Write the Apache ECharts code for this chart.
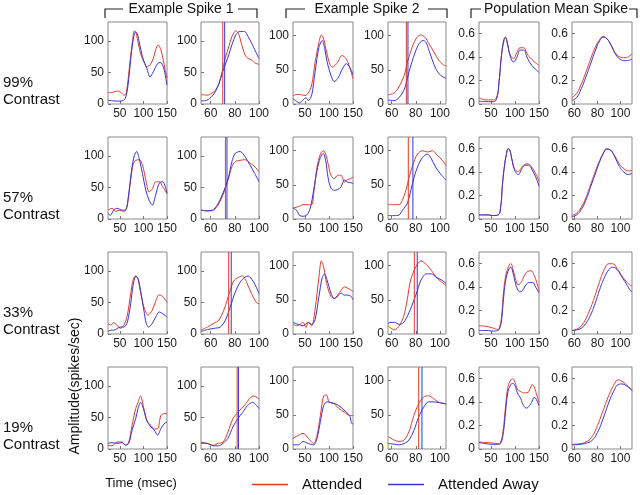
<!DOCTYPE html>
<html><head><meta charset="utf-8">
<script src="https://cdn.jsdelivr.net/npm/echarts@6/dist/echarts.min.js"></script>
<style>html,body{margin:0;padding:0;background:#fff}#c{width:640px;height:495px}</style>
</head><body><div id="c"></div>
<script>
// ---------- labels / ticks ----------
const rowLabels = ['99%', '57%', '33%', '19%'];
const colHeaders = ['Example Spike 1', 'Example Spike 2', 'Population Mean Spike'];
const fullXTicks = [50, 100, 150];
const zoomXTicks = [60, 80, 100];
const spikeYTicks = [0, 50, 100];
const popYTicks = [0, 0.2, 0.4, 0.6];
const seriesNames = ['Attended', 'Attended Away'];

// ---------- latency markers (msec) ----------
const ex1LatAtt = [70, 72.2, 74.9, 81.9];
const ex1LatAway = [71.6, 73.5, 77, 83];
const ex2LatAtt = [72.2, 73.8, 78.8, 82.4];
const ex2LatAway = [73.5, 77.6, 81.2, 85.1];

// ---------- row 1 (99%) ----------
const r1c1Att = [[25,18],[32,18],[40,20],[47,20.5],[53,18],[59,14],[63,16],[67,35],[72,70],[77,100],[81,116],[84,114],[87,104],[94,80],[98,72],[103,64],[107,59],[114,62],[121,72],[126,86],[131,94],[137,86],[142,70],[146,55],[150,41]];
const r1c1Away = [[25,6],[35,5],[45,4.5],[55,5],[61,8],[66,22],[71,55],[76,90],[80,108],[83,114],[87,112],[92,95],[98,75],[103,64],[107,57],[114,43],[121,51],[130,64],[136,66],[143,57],[150,30]];
const r1c2Att = [[52,15],[57,14],[61,17],[64,22],[67,33],[69.5,51],[72,72],[75,91],[77.6,107],[80.8,116],[83,112],[85.7,94],[88.4,78],[91,72],[93.8,70],[96.5,65],[100,63]];
const r1c2Away = [[52,5],[57,6],[61,12],[64,20],[67,33],[69.5,49],[72,62],[75,78],[77.6,94],[81,110],[84,115],[88,115],[91,107],[94,96],[96.5,86],[100,72]];
const r1c3Att = [[25,12],[33,14],[39,14],[45,13],[50,12.5],[57,16],[64,28],[71,61],[79,90],[84,101],[89,95],[95,76],[102,58],[107,54],[118,61],[127,71],[136,66],[143,54],[150,37]];
const r1c3Away = [[25,8],[32,4],[39,1.5],[46,6],[52,9],[57,5],[64,13],[71,47],[79,83],[86,93],[91,81],[96,62],[104,42],[111,33],[118,37],[127,50],[136,59],[143,54],[150,43]];
const r1c4Att = [[57,13.5],[62,16],[66,25],[70.4,42],[73,61],[76,78],[80,95],[84,101],[87.4,98],[91,88],[95,76],[99,64],[103,57],[105,56]];
const r1c4Away = [[57,6],[62,5],[66,9],[70.4,21],[73,37.5],[76,57],[80,78],[83,89],[86,93],[88.5,90],[91,78],[96.4,52],[100.5,42],[105,37.5]];
const r1c5Att = [[25,0.055],[40,0.035],[55,0.035],[62,0.06],[67,0.2],[72,0.42],[77,0.54],[80,0.57],[84,0.52],[90,0.42],[97,0.39],[104,0.44],[111,0.48],[118,0.48],[125,0.43],[135,0.38],[150,0.33]];
const r1c5Away = [[25,0.025],[40,0.02],[55,0.02],[62,0.05],[67,0.2],[72,0.42],[77,0.55],[80,0.57],[84,0.52],[90,0.41],[97,0.36],[104,0.40],[111,0.46],[118,0.46],[125,0.40],[135,0.33],[150,0.27]];
const r1c6Att = [[58,0.055],[62,0.09],[66,0.17],[70,0.27],[74,0.38],[78,0.48],[82,0.55],[85,0.575],[88,0.56],[92,0.50],[96,0.43],[100,0.40],[104,0.395],[108,0.41],[110,0.43]];
const r1c6Away = [[58,0.03],[62,0.055],[66,0.13],[70,0.23],[74,0.34],[78,0.45],[82,0.54],[85,0.57],[88,0.56],[92,0.50],[96,0.42],[100,0.38],[104,0.37],[108,0.375],[110,0.385]];

// ---------- row 2 (57%) ----------
const r2c1Att = [[25,14],[33.6,17],[40.7,12],[48,14],[58.6,12],[66,22],[73,62],[78.6,88],[83.6,93],[91,94],[98,86],[105,62],[112,43],[119,48],[126,59],[133.6,59],[141,51],[150,40]];
const r2c1Away = [[25,9],[30,6],[37,14],[44,17],[55,14],[62,14],[69,41],[76,83],[81,101],[85.7,107],[91,96],[98,72],[105,46],[112,30],[119,22],[126,38],[133.6,57],[141,59],[150,41]];
const r2c2Att = [[52,14],[57,13],[61.4,13],[65.4,20],[69.5,35],[72.2,49],[74.9,65],[77.6,83],[80.3,91],[84.3,93],[88.4,94],[92.4,89],[96.5,83],[100,75]];
const r2c2Away = [[52,14],[57,13],[61.4,14],[65.4,22],[69.5,38],[72.2,51],[74.9,67],[77.6,91],[80.3,104],[84.3,107],[88.4,99],[92.4,86],[96.5,72],[100,59]];
const r2c3Att = [[25,16],[36,18],[46,21],[57,21],[64,21],[69,42],[75,76],[82,95],[88,100],[93,95],[98,81],[104,64],[111,59],[118,64],[125,64],[132,54],[139,58],[146,59],[150,62]];
const r2c3Away = [[25,16],[32,13],[39,5],[46,4],[54,6],[61,16],[68,42],[75,71],[82,90],[88,96],[93,86],[98,61],[104,45],[111,42],[118,43],[125,47],[132,57],[139,54],[146,53],[150,52]];
const r2c4Att = [[57,21],[62,21],[66.3,21],[69,28],[71.8,42],[74.5,61],[77.3,78],[81.4,95],[85.5,100],[89.6,98],[93.7,100],[97.8,93],[102,86],[105,78]];
const r2c4Away = [[57,5],[62,5],[66.3,6],[69,13],[73,23],[75.9,42],[78.6,61],[81.4,76],[85.5,90],[89.6,95],[92.3,90],[96.4,76],[100.5,66],[105,57]];
const r2c5Att = [[25,0.035],[40,0.035],[55,0.03],[65,0.035],[70,0.1],[74,0.3],[78,0.45],[82,0.55],[86,0.6],[89,0.59],[93,0.52],[98,0.44],[103,0.41],[107,0.405],[112,0.43],[118,0.46],[125,0.47],[130,0.465],[137,0.43],[145,0.37],[150,0.32]];
const r2c5Away = [[25,0.035],[40,0.035],[55,0.03],[65,0.035],[70,0.1],[74,0.3],[78,0.45],[82,0.55],[86,0.6],[89,0.59],[93,0.52],[98,0.43],[103,0.39],[107,0.38],[112,0.41],[118,0.45],[125,0.46],[130,0.455],[137,0.41],[145,0.34],[150,0.28]];
const r2c6Att = [[58,0.03],[62,0.05],[66,0.1],[70,0.18],[74,0.29],[78,0.4],[82,0.5],[86,0.58],[88,0.6],[91,0.59],[95,0.54],[99,0.47],[103,0.43],[107,0.41],[110,0.415]];
const r2c6Away = [[58,0.02],[62,0.035],[66,0.08],[70,0.16],[74,0.27],[78,0.38],[82,0.49],[86,0.575],[88,0.595],[91,0.59],[95,0.53],[99,0.45],[103,0.4],[107,0.38],[110,0.39]];

// ---------- row 3 (33%) ----------
const r3c1Att = [[25,17],[31,14],[37,18],[44,14],[51,9],[58.6,14],[66,30],[73,64],[78.6,87],[83.6,92],[88.6,87],[94,66],[101,43],[110,30],[119,38],[126,52],[133,62],[140,60],[150,50]];
const r3c1Away = [[25,4],[31,6],[37,6],[51,11],[58.6,11],[66,19],[73,48],[78.6,79],[84.3,92],[89,87],[94,69],[101,37.5],[106,17],[111,11],[119,17],[126,27],[133.6,35],[141,32],[150,27]];
const r3c2Att = [[52,6],[57.3,11],[62.7,17],[66.8,22],[70.8,37.5],[73.5,53],[76.2,69],[79,84],[83,90],[86.5,92],[89.7,82],[93.8,64],[97.8,50],[100,48]];
const r3c2Away = [[52,4],[57.3,7],[62.7,9],[68,11],[72.2,22],[76.2,43],[80.3,66],[84.3,82],[88.4,90],[91,92],[95,84],[97.8,74],[100,64]];
const r3c3Att = [[25,14],[32,12],[39,14],[46,17],[52,9.5],[57,17],[64,12],[71,36],[79,83],[84,107],[89,98],[95,74],[104,55],[111,52],[118,57],[125,64],[132,69],[139,67],[146,64],[150,62]];
const r3c3Away = [[25,17],[36,14],[46,12],[57,17],[64,14],[71,21],[79,55],[86,83],[91,88],[96,79],[104,60],[111,52],[118,55],[125,60],[132,57],[139,57],[146,55],[150,50]];
const r3c4Att = [[57,12],[58.6,9.5],[62.3,6],[66.3,12],[70,26],[72.9,50],[75.7,79],[80,98],[84.3,107],[88.6,102],[92.9,93],[97,83],[101.4,76],[105,71]];
const r3c4Away = [[57,15],[58.6,17],[62.3,17],[66.3,14],[70,17],[74.3,31],[78.6,50],[81.4,64],[84.3,79],[88.6,88],[92.9,88],[97,83],[101.4,79],[105,74]];
const r3c5Att = [[25,0.07],[40,0.065],[55,0.05],[64,0.04],[68,0.06],[72,0.15],[76,0.35],[80,0.48],[85,0.56],[91,0.6],[96,0.55],[101,0.47],[107,0.42],[114,0.45],[120,0.5],[127,0.535],[133,0.54],[140,0.5],[146,0.43],[150,0.37]];
const r3c5Away = [[25,0.03],[40,0.03],[55,0.025],[64,0.03],[68,0.05],[72,0.12],[76,0.3],[80,0.44],[85,0.53],[91,0.57],[96,0.52],[101,0.43],[107,0.37],[111,0.36],[117,0.38],[123,0.42],[130,0.44],[136,0.44],[143,0.4],[150,0.35]];
const r3c6Att = [[58,0.03],[62,0.04],[66,0.07],[70,0.13],[74,0.22],[78,0.33],[82,0.45],[86,0.55],[90,0.6],[93,0.6],[97,0.56],[101,0.5],[105,0.45],[108,0.42],[110,0.41]];
const r3c6Away = [[58,0.03],[62,0.035],[66,0.05],[70,0.09],[74,0.16],[78,0.26],[82,0.38],[86,0.48],[90,0.55],[93,0.57],[97,0.55],[101,0.49],[105,0.43],[108,0.38],[110,0.36]];

// ---------- row 4 (19%) ----------
const r4c1Att = [[25,6],[33.6,5],[44,11],[55,11],[62,6],[69,11],[76,37.5],[83.6,64],[88.6,74],[94,84],[101,64],[108.6,43],[116,37.5],[123,32],[130,32],[137,53],[144,56],[150,56]];
const r4c1Away = [[25,9],[33.6,10],[44,9],[55,10],[62,6],[69,9],[76,30],[83.6,48],[88.6,64],[94,74],[100,64],[107,45],[116,35],[123,30],[130,22],[137,32],[144,40],[150,43]];
const r4c2Att = [[52,11],[56.8,9],[62.2,6],[66.2,9],[70.3,11],[74.3,27],[78.4,48],[82.4,58],[87.8,69],[93.2,82],[95.9,84],[100,79]];
const r4c2Away = [[52,9],[56.8,9],[62.2,5],[66.2,5],[70.3,9],[74.3,17],[78.4,35],[82.4,48],[86.5,58],[90.5,69],[94.6,74],[100,64]];
const r4c3Att = [[25,15.5],[36,20],[46,23],[57,15.5],[68,8],[75,20],[82,49],[89,78],[95,79],[100,69],[111,66],[121,59],[132,54],[143,49],[150,49]];
const r4c3Away = [[25,6],[36,6],[46,11],[57,8],[68,6],[75,15.5],[82,40],[89,64],[96,69],[104,68],[114,66],[125,61],[136,54],[143,49],[148,37],[150,37]];
const r4c4Att = [[57.3,18],[62.2,13],[66.2,11],[70.3,13],[74.3,25],[78.4,49],[82.4,66],[86.5,76],[90.5,78],[94.6,74],[98.6,69],[105,66]];
const r4c4Away = [[57.3,8],[62.2,7],[66.2,6],[70.3,8],[74.3,13],[78.4,27],[82.4,47],[86.5,61],[90.5,69],[94.6,69],[98.6,68],[105,66]];
const r4c5Att = [[25,0.06],[40,0.055],[55,0.05],[65,0.045],[70,0.06],[75,0.15],[80,0.35],[85,0.52],[90,0.58],[95,0.6],[100,0.57],[105,0.51],[112,0.49],[118,0.48],[125,0.48],[132,0.52],[136,0.55],[140,0.53],[146,0.45],[150,0.4]];
const r4c5Away = [[25,0.055],[40,0.045],[55,0.04],[65,0.04],[70,0.05],[75,0.12],[80,0.3],[85,0.48],[90,0.54],[95,0.56],[100,0.54],[105,0.48],[112,0.43],[118,0.37],[124,0.35],[130,0.37],[136,0.41],[140,0.44],[146,0.41],[150,0.37]];
const r4c6Att = [[58,0.04],[65,0.045],[70,0.06],[75,0.1],[80,0.2],[85,0.33],[90,0.46],[95,0.56],[98,0.59],[101,0.58],[105,0.55],[110,0.5]];
const r4c6Away = [[58,0.035],[65,0.04],[70,0.05],[75,0.07],[80,0.14],[85,0.26],[90,0.4],[95,0.51],[98,0.55],[101,0.555],[105,0.54],[110,0.5]];

const panels = [
  [[r1c1Att,r1c1Away],[r1c2Att,r1c2Away],[r1c3Att,r1c3Away],[r1c4Att,r1c4Away],[r1c5Att,r1c5Away],[r1c6Att,r1c6Away]],
  [[r2c1Att,r2c1Away],[r2c2Att,r2c2Away],[r2c3Att,r2c3Away],[r2c4Att,r2c4Away],[r2c5Att,r2c5Away],[r2c6Att,r2c6Away]],
  [[r3c1Att,r3c1Away],[r3c2Att,r3c2Away],[r3c3Att,r3c3Away],[r3c4Att,r3c4Away],[r3c5Att,r3c5Away],[r3c6Att,r3c6Away]],
  [[r4c1Att,r4c1Away],[r4c2Att,r4c2Away],[r4c3Att,r4c3Away],[r4c4Att,r4c4Away],[r4c5Att,r4c5Away],[r4c6Att,r4c6Away]]
];

// ---------- layout (styles, not data) ----------
const RED = '#e5392c', BLUE = '#3434d8';
const FONT = 'Liberation Sans, Arial, sans-serif';
const colLeft = [108, 201, 293, 388, 479, 572];
const colWidth = [59, 58, 60, 58, 60, 60];
const rowTop = [22, 137, 252, 367];
const H = 82;
const xMin = [25, 52, 25, 57, 25, 58];
const xMax = [150, 100, 150, 105, 150, 110];
const yMax = [130, 130, 120, 120, 0.7, 0.7];
const xTicksFor = [fullXTicks, zoomXTicks, fullXTicks, zoomXTicks, fullXTicks, zoomXTicks];
const yTicksFor = [spikeYTicks, spikeYTicks, spikeYTicks, spikeYTicks, popYTicks, popYTicks];
const latAtt = {1: ex1LatAtt, 3: ex2LatAtt};
const latAway = {1: ex1LatAway, 3: ex2LatAway};

const grids = [], xAxes = [], yAxes = [], series = [];
let gi = 0;
for (let r = 0; r < 4; r++) {
  for (let c = 0; c < 6; c++) {
    grids.push({left: colLeft[c], top: rowTop[r], width: colWidth[c], height: H,
      show: true, borderColor: '#8a8a8a', borderWidth: 1, backgroundColor: '#fff'});
    const labelStyle = {fontSize: 12, color: '#1a1a1a', fontFamily: FONT};
    xAxes.push({type: 'value', gridIndex: gi, min: xMin[c], max: xMax[c],
      axisLine: {show: false}, splitLine: {show: false},
      axisTick: {show: true, inside: true, length: 3, customValues: xTicksFor[c], lineStyle: {color: '#777'}},
      axisLabel: Object.assign({customValues: xTicksFor[c], margin: 4}, labelStyle)});
    yAxes.push({type: 'value', gridIndex: gi, min: 0, max: yMax[c],
      axisLine: {show: false}, splitLine: {show: false},
      axisTick: {show: true, inside: true, length: 3, customValues: yTicksFor[c], lineStyle: {color: '#777'}},
      axisLabel: Object.assign({customValues: yTicksFor[c], margin: 4}, labelStyle)});
    const pop = c >= 4;
    [0, 1].forEach(k => {
      const col = k ? BLUE : RED;
      series.push({type: 'line', name: seriesNames[k], xAxisIndex: gi, yAxisIndex: gi,
        data: panels[r][c][k], showSymbol: false, symbol: 'none', smooth: pop ? 0.5 : 0.3,
        lineStyle: {width: 1, color: col}, itemStyle: {color: col},
        animation: false, z: k ? 3 : 2});
      if (c === 1 || c === 3) {
        const v = k ? latAway[c][r] : latAtt[c][r];
        // vertical latency marker spanning the full panel height
        series.push({type: 'line', id: 'lat_' + gi + '_' + k, xAxisIndex: gi, yAxisIndex: gi,
          data: [[v, 0], [v, yMax[c]]], showSymbol: false, symbol: 'none', silent: true,
          lineStyle: {width: 1, color: col}, itemStyle: {color: col}, animation: false, z: 4});
      }
    });
    gi++;
  }
}

const graphic = [];
const hdr = [
  {cx: 181, l: 105, l2: 123, r1: 238, r: 257},
  {cx: 367, l: 286, l2: 305, r1: 428, r: 447},
  {cx: 556, l: 471, l2: 481, r1: 629, r: 637}
];
hdr.forEach((h, i) => {
  graphic.push({type: 'polyline', shape: {points: [[h.l, 18], [h.l, 9], [h.l2, 9]]}, style: {stroke: '#222', lineWidth: 1.2, fill: null}});
  graphic.push({type: 'polyline', shape: {points: [[h.r1, 9], [h.r, 9], [h.r, 18]]}, style: {stroke: '#222', lineWidth: 1.2, fill: null}});
  graphic.push({type: 'text', x: h.cx, y: 9, style: {text: colHeaders[i], font: '14px ' + FONT, fill: '#111', textAlign: 'center', textVerticalAlign: 'middle'}});
});
rowLabels.forEach((t, r) => {
  graphic.push({type: 'text', x: 3, y: rowTop[r] + 61, style: {text: t, font: '15px ' + FONT, fill: '#111', textAlign: 'left', textVerticalAlign: 'middle'}});
  graphic.push({type: 'text', x: 3, y: rowTop[r] + 78, style: {text: 'Contrast', font: '15px ' + FONT, fill: '#111', textAlign: 'left', textVerticalAlign: 'middle'}});
});
graphic.push({type: 'text', x: 75, y: 386, rotation: Math.PI / 2, style: {text: 'Amplitude(spikes/sec)', font: '14px ' + FONT, fill: '#111', textAlign: 'center', textVerticalAlign: 'middle'}});
graphic.push({type: 'text', x: 141, y: 483, style: {text: 'Time (msec)', font: '13px ' + FONT, fill: '#111', textAlign: 'center', textVerticalAlign: 'middle'}});

const chart = echarts.init(document.getElementById('c'), null, {renderer: 'canvas'});
chart.setOption({
  animation: false,
  backgroundColor: '#fff',
  grid: grids, xAxis: xAxes, yAxis: yAxes, series: series,
  legend: {
    data: [{name: seriesNames[0], icon: 'rect', itemStyle: {color: RED}},
           {name: seriesNames[1], icon: 'rect', itemStyle: {color: BLUE}}],
    left: 252, top: 477, padding: 0, itemWidth: 36, itemHeight: 1.5, itemGap: 26,
    textStyle: {fontSize: 15, fontFamily: FONT, color: '#111', padding: [0, 0, 0, 9]}},
  graphic: graphic
});
</script></body></html>
